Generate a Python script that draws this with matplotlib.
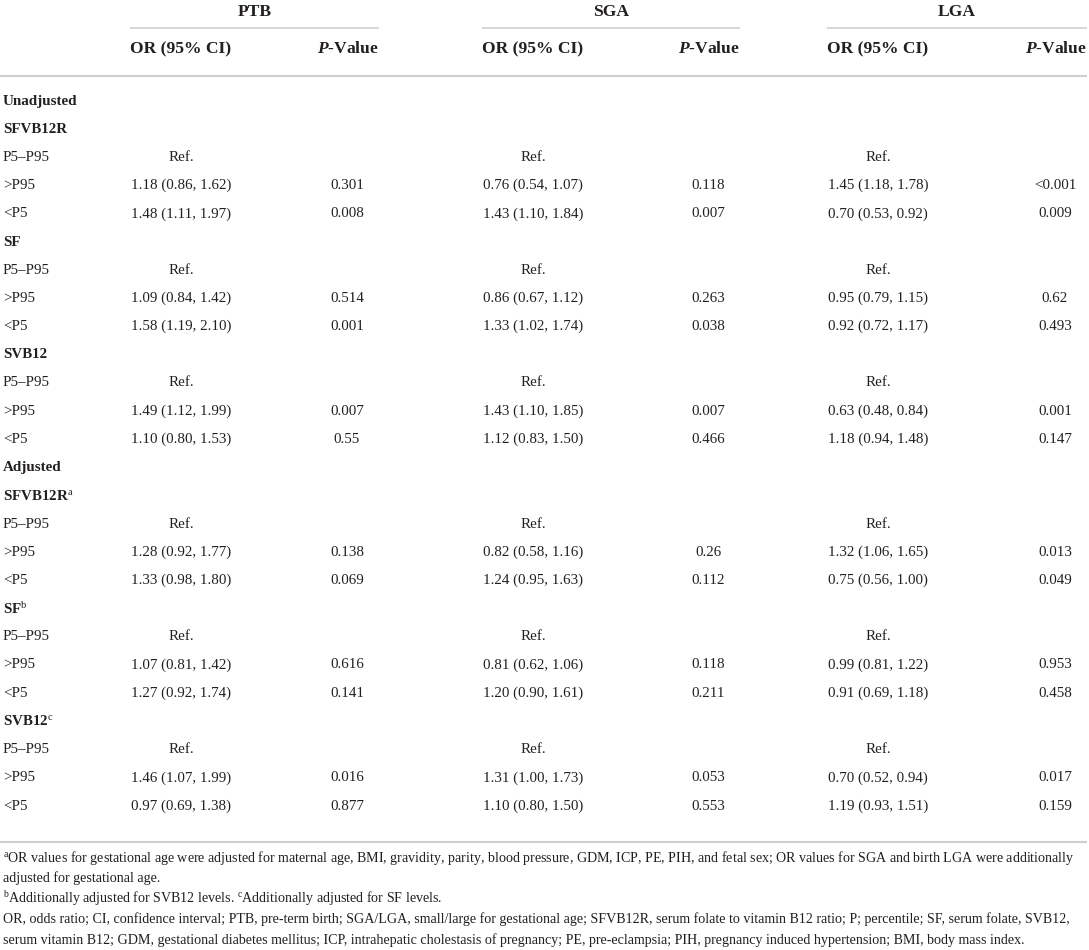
import matplotlib
matplotlib.use('Agg')
import matplotlib.pyplot as plt

# table data
groups = ['PTB', 'SGA', 'LGA']

row_labels = ['Unadjusted', 'SFVB12R', 'P5–P95', '>P95', '<P5',
              'SF', 'P5–P95', '>P95', '<P5',
              'SVB12', 'P5–P95', '>P95', '<P5',
              'Adjusted', 'SFVB12R$^{\\mathrm{a}}$', 'P5–P95', '>P95', '<P5',
              'SF$^{\\mathrm{b}}$', 'P5–P95', '>P95', '<P5',
              'SVB12$^{\\mathrm{c}}$', 'P5–P95', '>P95', '<P5']
bold_rows = [0, 1, 5, 9, 13, 14, 18, 22]

or_ptb = ['', '', 'Ref.', '1.18 (0.86, 1.62)', '1.48 (1.11, 1.97)',
          '', 'Ref.', '1.09 (0.84, 1.42)', '1.58 (1.19, 2.10)',
          '', 'Ref.', '1.49 (1.12, 1.99)', '1.10 (0.80, 1.53)',
          '', '', 'Ref.', '1.28 (0.92, 1.77)', '1.33 (0.98, 1.80)',
          '', 'Ref.', '1.07 (0.81, 1.42)', '1.27 (0.92, 1.74)',
          '', 'Ref.', '1.46 (1.07, 1.99)', '0.97 (0.69, 1.38)']
p_ptb = ['', '', '', '0.301', '0.008',
         '', '', '0.514', '0.001',
         '', '', '0.007', '0.55',
         '', '', '', '0.138', '0.069',
         '', '', '0.616', '0.141',
         '', '', '0.016', '0.877']

or_sga = ['', '', 'Ref.', '0.76 (0.54, 1.07)', '1.43 (1.10, 1.84)',
          '', 'Ref.', '0.86 (0.67, 1.12)', '1.33 (1.02, 1.74)',
          '', 'Ref.', '1.43 (1.10, 1.85)', '1.12 (0.83, 1.50)',
          '', '', 'Ref.', '0.82 (0.58, 1.16)', '1.24 (0.95, 1.63)',
          '', 'Ref.', '0.81 (0.62, 1.06)', '1.20 (0.90, 1.61)',
          '', 'Ref.', '1.31 (1.00, 1.73)', '1.10 (0.80, 1.50)']
p_sga = ['', '', '', '0.118', '0.007',
         '', '', '0.263', '0.038',
         '', '', '0.007', '0.466',
         '', '', '', '0.26', '0.112',
         '', '', '0.118', '0.211',
         '', '', '0.053', '0.553']

or_lga = ['', '', 'Ref.', '1.45 (1.18, 1.78)', '0.70 (0.53, 0.92)',
          '', 'Ref.', '0.95 (0.79, 1.15)', '0.92 (0.72, 1.17)',
          '', 'Ref.', '0.63 (0.48, 0.84)', '1.18 (0.94, 1.48)',
          '', '', 'Ref.', '1.32 (1.06, 1.65)', '0.75 (0.56, 1.00)',
          '', 'Ref.', '0.99 (0.81, 1.22)', '0.91 (0.69, 1.18)',
          '', 'Ref.', '0.70 (0.52, 0.94)', '1.19 (0.93, 1.51)']
p_lga = ['', '', '', '<0.001', '0.009',
         '', '', '0.62', '0.493',
         '', '', '0.001', '0.147',
         '', '', '', '0.013', '0.049',
         '', '', '0.953', '0.458',
         '', '', '0.017', '0.159']

footnotes = [
    '$^{\\mathrm{a}}$OR values for gestational age were adjusted for maternal age, BMI, gravidity, parity, blood pressure, '
    'GDM, ICP, PE, PIH, and fetal sex; OR values for SGA and birth LGA were additionally',
    'adjusted for gestational age.',
    '$^{\\mathrm{b}}$Additionally adjusted for SVB12 levels. $^{\\mathrm{c}}$Additionally adjusted for SF levels.',
    'OR, odds ratio; CI, confidence interval; PTB, pre-term birth; SGA/LGA, small/large for gestational age; '
    'SFVB12R, serum folate to vitamin B12 ratio; P; percentile; SF, serum folate, SVB12,',
    'serum vitamin B12; GDM, gestational diabetes mellitus; ICP, intrahepatic cholestasis of pregnancy; '
    'PE, pre-eclampsia; PIH, pregnancy induced hypertension; BMI, body mass index.',
]

plt.rcParams['font.family'] = 'Liberation Serif'
plt.rcParams['mathtext.fontset'] = 'custom'
plt.rcParams['mathtext.rm'] = 'Liberation Serif'
plt.rcParams['mathtext.it'] = 'Liberation Serif:italic:bold'
plt.rcParams['mathtext.bf'] = 'Liberation Serif:bold'

txt = '#231f20'
rule = '#cfcfcf'

fig = plt.figure(figsize=(10.89, 9.5), dpi=100)
ax = fig.add_axes([0, 0, 1, 1])
ax.set_xlim(0, 1089)
ax.set_ylim(950, 0)
ax.axis('off')

# column layout (pixels)
spans = [(130, 379), (482, 740), (827, 1087)]
or_x = [x0 + 51 for x0, x1 in spans]
p_x = [x1 - 32 for x0, x1 in spans]

for g, (x0, x1) in zip(groups, spans):
    ax.text((x0 + x1) / 2, 12, g, ha='center', va='center', fontsize=12.6,
            fontweight='bold', color=txt)
    ax.plot([x0, x1], [28, 28], color=rule, lw=1.2, solid_capstyle='butt')
    ax.text(x0, 49, 'OR (95% CI)', ha='left', va='center', fontsize=12.6,
            fontweight='bold', color=txt)
    ax.text(x1, 49, '$\\mathit{P}$-Value', ha='right', va='center', fontsize=12.6,
            fontweight='bold', color=txt)

ax.plot([0, 1087], [76, 76], color=rule, lw=1.5, solid_capstyle='butt')

row_y0 = 101
row_dy = 28.2
cols = [(or_ptb, or_x[0]), (p_ptb, p_x[0]), (or_sga, or_x[1]),
        (p_sga, p_x[1]), (or_lga, or_x[2]), (p_lga, p_x[2])]
for i, lab in enumerate(row_labels):
    y = row_y0 + i * row_dy
    ax.text(3, y, lab, ha='left', va='center', fontsize=10.8, color=txt,
            fontweight='bold' if i in bold_rows else 'normal')
    for vals, x in cols:
        if vals[i]:
            ax.text(x, y, vals[i], ha='center', va='center', fontsize=10.8, color=txt)

ax.plot([0, 1087], [842, 842], color=rule, lw=1.5, solid_capstyle='butt')

for k, line in enumerate(footnotes):
    ax.text(3, 858 + k * 20.5, line, ha='left', va='center', fontsize=10.1, color=txt)

fig.savefig('out.png', dpi=100)
